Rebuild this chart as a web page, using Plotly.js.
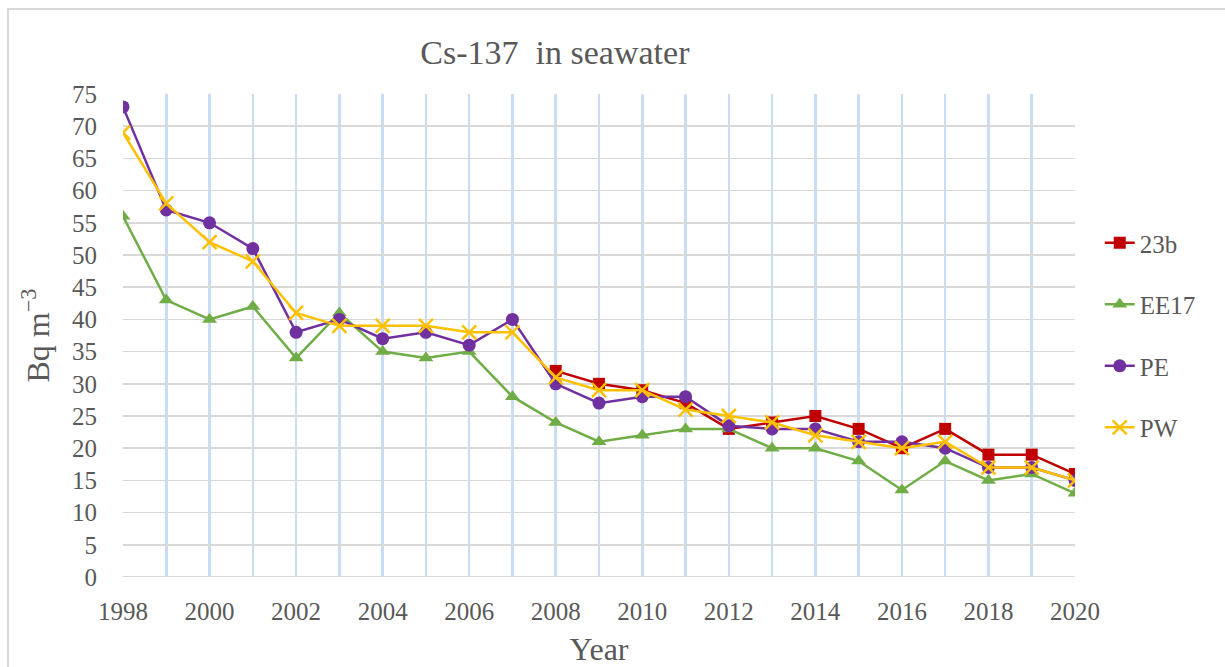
<!DOCTYPE html>
<html>
<head>
<meta charset="utf-8">
<script src="https://cdn.plot.ly/plotly-3.0.1.min.js"></script>
<style>
html,body{margin:0;padding:0;background:#fff;}
#frame{position:absolute;left:7px;top:8px;width:1230px;height:670px;border:2px solid #d9d9d9;box-sizing:border-box;pointer-events:none;z-index:5;}
#chart{position:absolute;left:0;top:0;width:1225px;height:667px;}
</style>
</head>
<body>
<div id="chart"></div>
<div id="frame"></div>
<script>
const years = [1998,1999,2000,2001,2002,2003,2004,2005,2006,2007,2008,2009,2010,2011,2012,2013,2014,2015,2016,2017,2018,2019,2020];
const years23b = [2008,2009,2010,2011,2012,2013,2014,2015,2016,2017,2018,2019,2020];
const s23b = [32,30,29,27,23,24,25,23,20,23,19,19,16];
const sEE17 = [56,43,40,42,34,41,35,34,35,28,24,21,22,23,23,20,20,18,13.5,18,15,16,13];
const sPE = [73,57,55,51,38,40,37,38,36,40,30,27,28,28,23.5,23,23,21,21,20,17,17,15];
const sPW = [69,58,52,49,41,39,39,39,38,38,31,29,29,26,25,24,22,21,20,21,17,17,15];
const xTicks = [1998,2000,2002,2004,2006,2008,2010,2012,2014,2016,2018,2020];
const yTicks = [0,5,10,15,20,25,30,35,40,45,50,55,60,65,70,75];

const font = 'Liberation Serif, Times New Roman, serif';
const txt = '#595959';

function tr(name, x, y, color, symbol, size){
  return {type:'scatter', mode:'lines+markers', name:name, x:x, y:y, legendgroup:name,
    line:{color:color, width:2.5}, marker:{color:color, symbol:symbol, size:size}};
}
const data = [
  tr('23b', years23b, s23b, '#c00000', 'square', 12),
  tr('EE17', years, sEE17, '#70ad47', 'triangle-up', 13),
  tr('PE', years, sPE, '#7030a0', 'circle', 13),
  tr('PW', years, sPW, '#ffc000', 'x-thin-open', 14)
];
data[3].marker.line = {color:'#ffc000', width:2.5};

const layout = {
  width:1225, height:667,
  margin:{l:123, r:150, t:94, b:90},
  paper_bgcolor:'#fff', plot_bgcolor:'#fff',
  font:{family:font, color:txt},
  title:{text:'Cs-137  in seawater', font:{family:font, size:34, color:txt},
    x:0.453, xref:'container', xanchor:'center', y:0.922, yref:'container', yanchor:'middle'},
  xaxis:{range:[1998,2020], tickvals:xTicks, ticktext:xTicks.map(String),
    showgrid:true, gridcolor:'#c9def2', gridwidth:2.5,
    minor:{dtick:1, tick0:1998, showgrid:true, gridcolor:'#c9def2', gridwidth:2.5, ticks:''},
    zeroline:false, showline:false, ticks:'outside', ticklen:12, tickcolor:'rgba(0,0,0,0)',
    tickfont:{size:25, color:txt},
    title:{text:'Year', font:{size:32, color:txt}, standoff:13}},
  yaxis:{range:[0,75], tickvals:yTicks, showgrid:true, gridcolor:'#d9d9d9', gridwidth:1.5,
    zeroline:false, showline:false, ticks:'outside', ticklen:20, tickcolor:'rgba(0,0,0,0)',
    tickfont:{size:25, color:txt},
    title:{text:'Bq m<sup>−3</sup>', font:{size:32, color:txt}, standoff:12}},
  legend:{x:1.026, xanchor:'left', y:0.739, yanchor:'top', font:{size:25, color:txt},
    tracegroupgap:26, bgcolor:'rgba(0,0,0,0)'},
  shapes:[{type:'line', xref:'paper', yref:'y', x0:0, x1:1, y0:0, y1:0, line:{color:'#d9d9d9', width:2}, layer:'above'}]
};
Plotly.newPlot('chart', data, layout, {displayModeBar:false, staticPlot:true});
</script>
</body>
</html>
